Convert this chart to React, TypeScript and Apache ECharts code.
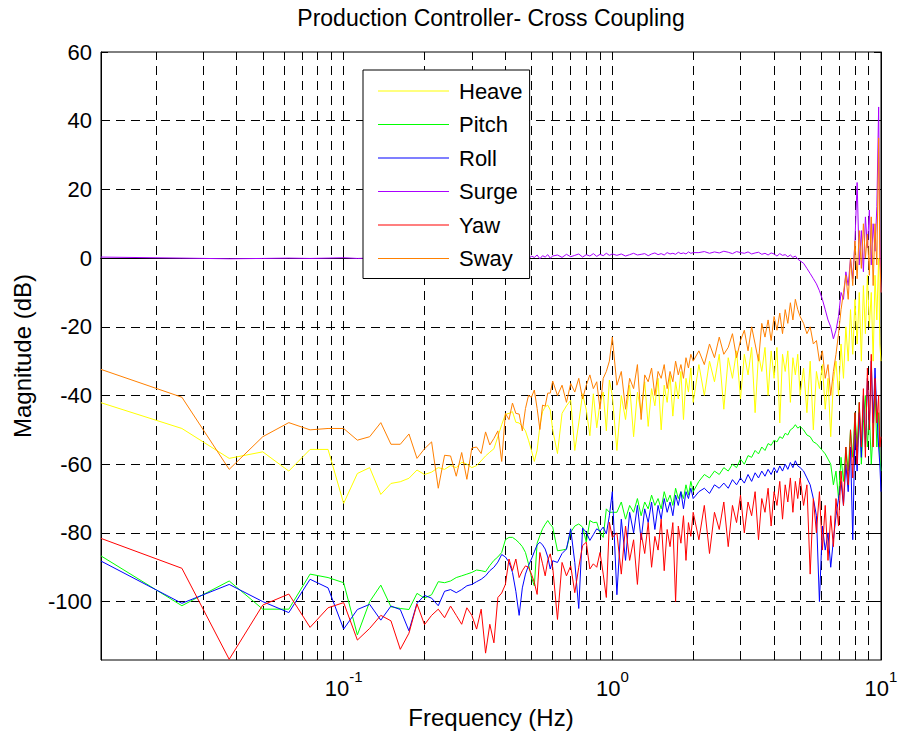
import React, { useEffect, useRef } from 'react';
import * as echarts from 'echarts';

// ---------- data ----------
const TITLE = 'Production Controller- Cross Coupling';
const X_NAME = 'Frequency (Hz)';
const Y_NAME = 'Magnitude (dB)';

const FREQ = [
  0.0125, 0.025, 0.0375, 0.05, 0.0625, 0.075, 0.0875, 0.1, 0.1125, 0.125,
  0.1375, 0.15, 0.1625, 0.175, 0.1875, 0.2, 0.2125, 0.225, 0.2375, 0.25,
  0.2625, 0.275, 0.2875, 0.3, 0.3125, 0.325, 0.3375, 0.35, 0.3625, 0.375,
  0.3875, 0.4, 0.4125, 0.425, 0.4375, 0.45, 0.4625, 0.475, 0.4875, 0.5,
  0.5125, 0.525, 0.5375, 0.55, 0.5625, 0.575, 0.5875, 0.6,
  0.625, 0.65, 0.675, 0.7, 0.725, 0.75, 0.775, 0.8, 0.825, 0.85, 0.875, 0.9, 0.925, 0.95, 0.975, 1.0,
  1.04, 1.08, 1.12, 1.16, 1.2, 1.24, 1.28, 1.32, 1.36, 1.4, 1.44, 1.48, 1.52, 1.56, 1.6, 1.64, 1.68, 1.72, 1.76, 1.8, 1.84, 1.88, 1.92, 1.96, 2.0,
  2.1, 2.2, 2.3, 2.4, 2.5, 2.6, 2.7, 2.8, 2.9, 3.0, 3.1, 3.2, 3.3, 3.4, 3.5, 3.6, 3.7, 3.8, 3.9, 4.0, 4.1, 4.2, 4.3, 4.4, 4.5, 4.6, 4.7, 4.8, 4.9, 5.0,
  5.15, 5.3, 5.45, 5.6, 5.75, 5.9, 6.05, 6.2, 6.35, 6.5, 6.65, 6.8, 6.95, 7.1, 7.25, 7.4, 7.55, 7.7, 7.85, 8.0,
  8.15, 8.3, 8.45, 8.6, 8.75, 8.9, 9.05, 9.2, 9.35, 9.5, 9.65, 9.8, 9.9, 10.0,
];

const HEAVE = [
  -42.1, -49.6, -58.3, -56.4, -62, -55.7, -55.7, -71.4, -62.7, -61,
  -68.8, -65.6, -65.1, -64.1, -61.7, -63, -62.3, -61, -61.5, -60.4,
  -61, -59.4, -60, -61, -60.4, -59, -57.6, -56.5, -55.5, -52,
  -48.5, -45.5, -45.2, -44.7, -47.8, -48, -49, -50.3, -53, -56,
  -59.2, -55.9, -48.9, -44.7, -43.3, -42.8, -44.2, -50,
  -56.9, -45.2, -43, -41.4, -56, -48, -39.5, -44.2, -51.7, -39.5, -49.4, -42, -39, -50.3, -35.5, -40,
  -56, -40, -47, -37, -52, -39, -45, -36, -49, -38, -43, -35, -50, -37, -42, -34, -46, -36, -41, -33, -47, -35, -39, -32, -42,
  -31, -40, -30, -36, -28, -44, -29, -35, -27, -41, -28, -34, -26, -45, -28, -33, -26, -40, -27, -35, -26, -48, -28, -33, -27, -42, -29, -34, -28, -40,
  -32, -45, -30, -50, -33, -38, -31, -44, -35, -52, -36, -30, -40, -25, -35, -20, -30, -15, -28, -12,
  -25, -10, -30, -8, -22, -5, -20, -10, -30, -5, -18, 0, -25, -30,
];

const PITCH = [
  -86.7, -101.2, -94, -102.2, -102.2, -92, -93, -94.5, -109.7, -100,
  -95.2, -101.5, -102, -102.3, -97.6, -99, -98, -94.2, -94.5, -94,
  -93, -92.5, -92, -91.5, -90.8, -91, -91.3, -89.5, -88, -87,
  -85.7, -82, -81.3, -81.3, -82, -82.9, -84, -85.7, -89, -93,
  -95.4, -83, -80.8, -78.8, -77.5, -76.4, -77.5, -78.3,
  -85.2, -85, -84.7, -79.8, -78, -77.4, -78.3, -82.7, -76.4, -77, -76.9, -80, -81.3, -73, -74, -74,
  -74, -71, -76, -72, -74, -70, -75, -71, -73, -69, -72, -70, -73, -68, -71, -69, -72, -67, -70, -68, -70, -66, -69, -65, -68,
  -65, -63, -64, -62, -63, -61, -62, -60, -61, -58.5, -60, -57.5, -58, -56, -57, -55, -56, -54, -54.5, -53, -53.5, -52, -52.5, -51, -51.5, -50, -49.5, -48.5, -49.5, -49,
  -50, -51.5, -52, -53.5, -54, -55, -56, -57, -58.5, -60, -66, -62, -70, -58, -65, -55, -62, -50, -58, -45,
  -55, -42, -60, -48, -40, -55, -45, -60, -50, -38, -55, -45, -58, -62,
];

const ROLL = [
  -88.2, -100.5, -95, -100, -103.2, -93.5, -96, -108, -102.3, -100.8,
  -105.4, -101.3, -102.3, -108.5, -100.5, -98.2, -99, -101.2, -97, -96.5,
  -97.4, -96.5, -95.4, -95, -94.2, -93.5, -92.5, -91, -90, -88.5,
  -86.3, -87, -88.5, -91.5, -97, -104, -96, -92, -89.5, -87.6,
  -85.5, -83.5, -82.7, -83.5, -84.7, -87, -90.5, -88.1,
  -88.6, -86, -84.7, -78.8, -88.6, -102, -78.6, -79.8, -82.2, -80.5, -78.8, -79.5, -78.3, -80.3, -75, -68,
  -98, -76, -88, -74, -80, -72, -82, -73, -77, -71, -79, -72, -76, -70, -74, -71, -75, -69, -72, -68, -73, -68, -70, -67, -70,
  -68, -67, -68.5, -66, -67, -65.5, -67, -64.5, -66, -64, -65.5, -63, -65, -62.5, -64, -62, -63.5, -61.5, -63, -61, -62.5, -60.5, -62, -60, -61.5, -59.5, -61, -59, -60.5, -61,
  -62, -64, -66, -70, -75, -100, -78, -85, -80, -90, -82, -75, -70, -65, -72, -60, -68, -55, -82, -50,
  -62, -45, -58, -40, -55, -35, -50, -30, -48, -32, -45, -55, -60, -68,
];

const SURGE = [
  0.3, 0, -0.2, -0.1, 0, -0.1, 0, 0.1, -0.1, 0,
  0.1, -0.2, 0, 0.1, -0.1, 0, 0.2, -0.3, 0.1, 0,
  0.3, -0.2, 0.1, 0.4, -0.1, 0.2, 0.5, -0.3, 0.3, 0,
  0.6, -0.4, 0.3, 0.7, -0.2, 0.5, 0.1, 0.8, -0.3, 0.6,
  0.2, 0.9, -0.2, 0.7, 0.3, 1.0, 0, 0.6,
  0.9, 0.2, 1.1, 0.4, 0.8, 1.2, 0.3, 1.0, 0.6, 1.3, 0.5, 1.1, 0.7, 1.4, 0.8, 1.2,
  0.8, 1.2, 0.6, 1.0, 1.4, 0.9, 1.1, 1.3, 0.7, 1.2, 1.5, 1.0, 1.3, 0.9, 1.6, 1.2, 1.4, 1.1, 1.7, 1.3, 1.5, 1.2, 1.8, 1.4, 1.6,
  1.6, 1.9, 1.4, 1.8, 1.5, 2.0, 1.7, 1.3, 1.9, 1.6, 1.4, 1.8, 1.2, 1.5, 1.7, 1.1, 1.4, 0.9, 1.5, 1.2, 0.6, 1.3, 0.8, 1.0, 0.4, 0.9, 0.2, 0.6, -0.3, -0.8,
  -1.5, -3, -4.5, -6, -7.5, -9.5, -12, -15, -18, -20, -23.5, -21, -17, -10, -12, -4, -8, 0, -6, 5,
  22, -2, 8, -4, 12, 3, 14, -2, 10, 2, 15, 44, 5, -10,
];

const YAW = [
  -81.6, -90.3, -116.8, -101, -97.8, -107.5, -101.8, -100.3, -111.2, -107.8,
  -104, -105.6, -113.9, -109.2, -100.7, -106.7, -104, -102.2, -104.7, -101.3,
  -104, -106.6, -101.8, -104, -108, -102.2, -115, -106.6, -112, -98.8,
  -97.5, -95, -87.6, -91, -87.6, -93, -91, -89.6, -90, -92,
  -94.4, -97.9, -85.7, -89, -92.5, -88, -86.1, -90,
  -105.2, -88.6, -92.5, -89.6, -97.4, -90, -83.7, -82.7, -90.5, -89, -90, -85.7, -92, -98.8, -76.9, -81.3,
  -80, -92, -78, -88, -82, -95, -80, -86, -77, -90, -81, -85, -76, -91, -79, -84, -77, -100, -78, -83, -75, -88, -77, -81, -74,
  -82, -72, -86, -74, -79, -71, -84, -72, -77, -69, -80, -71, -75, -68, -82, -70, -74, -67, -78, -68, -72, -65, -76, -66, -71, -64, -74, -65, -70, -64,
  -72, -66, -92, -70, -80, -68, -85, -72, -88, -75, -84, -70, -78, -62, -72, -55, -66, -50, -64, -45,
  -60, -42, -55, -38, -58, -32, -50, -28, -55, -35, -48, -40, -55, -52,
];

const SWAY = [
  -32.4, -40.5, -61.5, -52, -47.9, -50, -49.6, -49.6, -53, -52,
  -47.9, -54.2, -54.2, -51.2, -58.3, -55.5, -53.5, -67, -57.4, -57.6,
  -63.5, -56.6, -64.4, -55.3, -55, -56.9, -50.6, -54.4, -52.5, -50.3,
  -59.2, -45.2, -47, -42.2, -45.2, -45.4, -50.3, -43.8, -40, -40.5,
  -38.4, -43.8, -49.9, -42.8, -43.1, -39.3, -39.3, -35.8,
  -40, -37, -42, -36.5, -39, -35, -41, -37, -34, -38, -36, -44, -35, -33, -30, -23,
  -37, -33, -44, -35, -38, -31, -47, -34, -36, -32, -40, -33, -35, -31, -38, -33, -36, -30, -34, -31, -35, -29, -32, -28, -30,
  -27, -31, -25, -29, -23, -28, -26, -22, -29, -24, -21, -27, -20, -25, -30, -19, -23, -18, -24, -17, -21, -16, -22, -15, -19, -13, -18, -12, -15, -17,
  -19, -22, -20, -25, -24, -30, -27, -35, -31, -40, -33, -28, -22, -15, -10, -5, -12, 0, -8, 5,
  -6, 8, -3, 10, 0, 7, -5, 12, -8, 10, -2, 35, 0, -10,
];

const SERIES_NAMES = ['Heave', 'Pitch', 'Roll', 'Surge', 'Yaw', 'Sway'];
const SERIES_VALUES = [HEAVE, PITCH, ROLL, SURGE, YAW, SWAY];
const SERIES_COLORS = ['#ffff00', '#00ff00', '#0000ff', '#aa00ff', '#ff0000', '#ff8000'];

const Y_MIN = -117;
const Y_MAX = 60;
const X_MIN = 0.0125;
const X_MAX = 10;
const Y_TICKS = [-100, -80, -60, -40, -20, 0, 20, 40, 60];
const Y_GRID = [-100, -80, -60, -40, -20, 0, 20, 40];
const X_MAJOR_GRID = [0.1, 1];
const X_MINOR = [
  0.02, 0.03, 0.04, 0.05, 0.06, 0.07, 0.08, 0.09,
  0.2, 0.3, 0.4, 0.5, 0.6, 0.7, 0.8, 0.9,
  2, 3, 4, 5, 6, 7, 8, 9,
];

const FONT = "'Liberation Sans', Arial, Helvetica, sans-serif";

function superLabel(v: number): string {
  const lg = Math.log10(v);
  const e = Math.round(lg);
  if (Math.abs(lg - e) > 1e-6) return '';
  return `{b|10}{s|${e}}`;
}

export default function App() {
  const ref = useRef<HTMLDivElement>(null);

  useEffect(() => {
    if (!ref.current) return;
    const chart = echarts.init(ref.current, undefined, { renderer: 'svg' });

    const dataSeries = SERIES_NAMES.map((name, i) => ({
      name,
      type: 'line',
      data: FREQ.map((f, j) => [f, SERIES_VALUES[i][j]]),
      symbol: 'none',
      showSymbol: false,
      clip: true,
      silent: true,
      z: 3 + i,
      emphasis: { disabled: true },
      lineStyle: { width: 1, color: SERIES_COLORS[i] },
      itemStyle: { color: SERIES_COLORS[i] },
    }));

    const gridSeries = {
      type: 'line',
      data: [],
      silent: true,
      z: 1,
      markLine: {
        silent: true,
        z: 1,
        symbol: ['none', 'none'],
        label: { show: false },
        emphasis: { disabled: true },
        lineStyle: { color: '#000', width: 1, type: [9, 6] },
        data: [
          ...X_MAJOR_GRID.map((v) => ({ xAxis: v })),
          ...X_MINOR.map((v) => ({ xAxis: v })),
          ...Y_GRID.map((v) => ({ yAxis: v })),
        ],
      },
    };

    const tickLen = 1.2; // minor tick length in dB units (~4px)
    const tickSeries = {
      type: 'line',
      data: [],
      silent: true,
      z: 2,
      markLine: {
        silent: true,
        z: 2,
        symbol: ['none', 'none'],
        label: { show: false },
        emphasis: { disabled: true },
        lineStyle: { color: '#000', width: 1, type: 'solid' },
        data: [
          ...X_MINOR.map((v) => [{ coord: [v, Y_MIN] }, { coord: [v, Y_MIN + tickLen] }]),
          ...X_MINOR.map((v) => [{ coord: [v, Y_MAX] }, { coord: [v, Y_MAX - tickLen] }]),
        ],
      },
    };

    const axisLineStyle = { show: true, lineStyle: { color: '#000', width: 1 } };

    chart.setOption({
      animation: false,
      backgroundColor: '#ffffff',
      textStyle: { fontFamily: FONT },
      grid: {
        left: 101,
        right: 18,
        top: 52,
        bottom: 76,
        containLabel: false,
        outerBoundsMode: 'none',
        show: true,
        borderColor: '#000',
        borderWidth: 1,
        backgroundColor: 'transparent',
      },
      graphic: [
        {
          type: 'text',
          x: 491,
          y: 18,
          silent: true,
          style: {
            text: TITLE,
            font: `23px ${FONT}`,
            fill: '#000',
            textAlign: 'center',
            textVerticalAlign: 'middle',
          },
        },
      ],
      legend: {
        data: SERIES_NAMES.map((name) => ({ name, icon: 'rect' })),
        orient: 'vertical',
        left: 363,
        top: 70,
        z: 50,
        zlevel: 0,
        itemWidth: 71,
        itemHeight: 1,
        itemGap: 11.5,
        padding: [10, 7, 9, 15],
        borderColor: '#000',
        borderWidth: 1,
        borderRadius: 0,
        backgroundColor: '#fff',
        selectedMode: false,
        textStyle: {
          fontFamily: FONT,
          fontSize: 22,
          lineHeight: 22,
          color: '#000',
          padding: [0, 0, 0, 5],
        },
      },
      xAxis: [
        {
          type: 'log',
          logBase: 10,
          min: X_MIN,
          max: X_MAX,
          name: X_NAME,
          nameLocation: 'middle',
          nameGap: 45,
          nameTextStyle: { fontFamily: FONT, fontSize: 24, color: '#000' },
          axisLine: axisLineStyle,
          axisTick: { show: true, inside: true, length: 7, lineStyle: { color: '#000' } },
          minorTick: { show: false },
          splitLine: { show: false },
          axisLabel: {
            margin: 9,
            color: '#000',
            formatter: (v: number) => superLabel(v),
            rich: {
              b: { fontFamily: FONT, fontSize: 22, color: '#000', padding: [8, 0, 0, 0] },
              s: { fontFamily: FONT, fontSize: 15, color: '#000', verticalAlign: 'top' },
            },
          },
        },
        {
          type: 'log',
          logBase: 10,
          min: X_MIN,
          max: X_MAX,
          position: 'top',
          axisLine: axisLineStyle,
          axisTick: { show: true, inside: true, length: 7, lineStyle: { color: '#000' } },
          axisLabel: { show: false },
          splitLine: { show: false },
        },
      ],
      yAxis: [
        {
          type: 'value',
          min: Y_MIN,
          max: Y_MAX,
          name: Y_NAME,
          nameLocation: 'middle',
          nameGap: 67,
          nameRotate: 90,
          nameTextStyle: { fontFamily: FONT, fontSize: 24, color: '#000' },
          axisLine: axisLineStyle,
          axisTick: { show: true, inside: true, length: 7, customValues: Y_TICKS, lineStyle: { color: '#000' } },
          splitLine: { show: false },
          axisLabel: {
            customValues: Y_TICKS,
            margin: 9,
            color: '#000',
            fontFamily: FONT,
            fontSize: 22,
          },
        },
        {
          type: 'value',
          min: Y_MIN,
          max: Y_MAX,
          position: 'right',
          axisLine: axisLineStyle,
          axisTick: { show: true, inside: true, length: 7, customValues: Y_TICKS, lineStyle: { color: '#000' } },
          splitLine: { show: false },
          axisLabel: { show: false },
        },
      ],
      series: [gridSeries, tickSeries, ...dataSeries],
    });

    return () => {
      chart.dispose();
    };
  }, []);

  return (
    <div
      ref={ref}
      style={{ position: 'absolute', left: 0, top: 0, width: 899, height: 736, background: '#fff' }}
    />
  );
}
